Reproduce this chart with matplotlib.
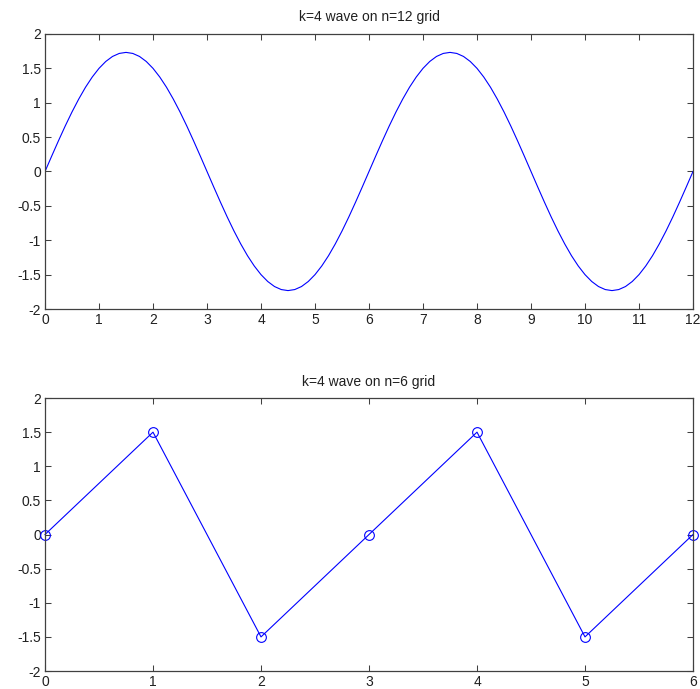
import matplotlib
matplotlib.use("Agg")
import matplotlib.pyplot as plt
from matplotlib.ticker import FuncFormatter

plt.rcParams['font.family'] = ['Liberation Sans', 'DejaVu Sans']

# Top panel: smooth wave sampled every 0.125 on [0, 12]
top_x = [i * 0.125 for i in range(97)]
top_y = [
    0.0, 0.226, 0.448, 0.663, 0.866, 1.054, 1.225, 1.374, 1.5, 1.6, 1.673, 1.717,
    1.732, 1.717, 1.673, 1.6, 1.5, 1.374, 1.225, 1.054, 0.866, 0.663, 0.448, 0.226,
    0.0, -0.226, -0.448, -0.663, -0.866, -1.054, -1.225, -1.374, -1.5, -1.6, -1.673, -1.717,
    -1.732, -1.717, -1.673, -1.6, -1.5, -1.374, -1.225, -1.054, -0.866, -0.663, -0.448, -0.226,
    0.0, 0.226, 0.448, 0.663, 0.866, 1.054, 1.225, 1.374, 1.5, 1.6, 1.673, 1.717,
    1.732, 1.717, 1.673, 1.6, 1.5, 1.374, 1.225, 1.054, 0.866, 0.663, 0.448, 0.226,
    0.0, -0.226, -0.448, -0.663, -0.866, -1.054, -1.225, -1.374, -1.5, -1.6, -1.673, -1.717,
    -1.732, -1.717, -1.673, -1.6, -1.5, -1.374, -1.225, -1.054, -0.866, -0.663, -0.448, -0.226,
    0.0,
]

# Bottom panel: sampled grid
bot_x = [0, 1, 2, 3, 4, 5, 6]
bot_y = [0.0, 1.5, -1.5, 0.0, 1.5, -1.5, 0.0]

top_title = "k=4 wave on n=12 grid"
bot_title = "k=4 wave on n=6 grid"
yticks = [-2, -1.5, -1, -0.5, 0, 0.5, 1, 1.5, 2]
top_xticks = list(range(0, 13))
bot_xticks = list(range(0, 7))

fig = plt.figure(figsize=(7.0, 6.89), dpi=100)
ax1 = fig.add_axes([0.0643, 0.5515, 0.9257, 0.3992])
ax2 = fig.add_axes([0.0643, 0.0261, 0.9257, 0.3962])

fmt = FuncFormatter(lambda v, p: ('%g' % v))
spine_col = '#404040'

def style(ax, xticks, xmax, title):
    ax.set_xlim(0, xmax)
    ax.set_ylim(-2, 2)
    ax.set_xticks(xticks)
    ax.set_yticks(yticks)
    ax.xaxis.set_major_formatter(fmt)
    ax.yaxis.set_major_formatter(fmt)
    ax.tick_params(direction='in', length=4, width=0.75, color=spine_col,
                   labelsize=10, labelcolor='#202020', pad=3,
                   top=True, right=True)
    for s in ax.spines.values():
        s.set_color(spine_col)
        s.set_linewidth(0.9)
    ax.set_title(title, fontsize=10, pad=9, color='#202020')

ax1.plot(top_x, top_y, color='#0000ff', linewidth=0.8)
style(ax1, top_xticks, 12, top_title)

ax2.plot(bot_x, bot_y, color='#0000ff', linewidth=0.8, marker='o',
         markersize=7, markerfacecolor='none', markeredgecolor='#0000ff',
         markeredgewidth=0.8, clip_on=False)
style(ax2, bot_xticks, 6, bot_title)

fig.savefig('out.png', dpi=100)
